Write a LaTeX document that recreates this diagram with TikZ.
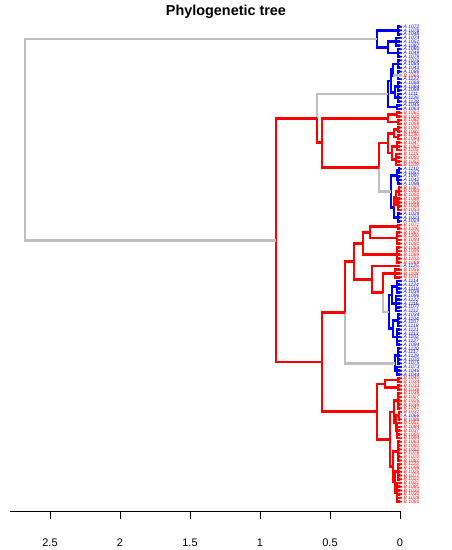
\documentclass[tikz,border=0pt]{standalone}
\usepackage{fontspec}
\setmainfont{Liberation Sans}
\usetikzlibrary{calc}
\definecolor{colB}{RGB}{255,0,0}
\definecolor{colA}{RGB}{0,0,255}
\definecolor{tgray}{RGB}{190,190,190}
\tikzset{
  br/.style={line width=2.7pt},
  R/.style={br,draw=colB},
  B/.style={br,draw=colA},
  G/.style={br,draw=tgray},
  leaflab/.style={anchor=west,inner sep=0pt,font=\fontsize{4.9}{5}\selectfont\itshape},
  leafdot/.style={circle,inner sep=0pt,minimum size=2.6pt},
  ticklab/.style={font=\fontsize{11}{13}\selectfont},
  declare function={ly(\i)=26.7+3.74*\i;}
}
\newcommand\mygrp[5]{%
  \coordinate (#1) at (#2,{ly((#3+#4)/2)});
  \foreach \kk in {#3,...,#4}{\draw[#5] (#1) |- (L\kk);}}
\newcommand\mkpar[4]{\path let \p1=($(#3)!.5!(#4)$) in coordinate (#1) at (#2,\y1);}
\newcommand\tedge[3]{\draw[#1] (#2) |- (#3);}
\begin{document}
\begin{tikzpicture}[x=1pt,y=-1pt]
\useasboundingbox (0,0) rectangle (452,550);
\node[font=\fontsize{14.4}{16}\selectfont\bfseries] (title) at (226,12) {Phylogenetic tree};
% leaves
\foreach \ii in {0,...,127}{\coordinate (L\ii) at (400,{ly(\ii)});}
% ---- cluster 1 (blue)
\mygrp{c1a}{398}{0}{2}{B}
\mygrp{c1bx}{396}{3}{5}{B}
\mygrp{c1by}{398}{6}{8}{B}
\mkpar{c1b}{388}{c1bx}{c1by}
\tedge{B}{c1b}{c1bx}\tedge{B}{c1b}{c1by}
\mkpar{c1}{377}{c1a}{c1b}
\tedge{B}{c1}{c1a}\tedge{B}{c1}{c1b}
% ---- cluster 2 (blue)
\mygrp{c2g1}{398}{9}{11}{B}
\mygrp{c2g2}{398}{12}{14}{B}
\mkpar{c2a1}{393}{c2g1}{c2g2}
\tedge{B}{c2a1}{c2g1}\tedge{B}{c2a1}{c2g2}
\draw[G] (393,{ly(13)}) -- (L13);
\mygrp{c2g3}{398}{15}{17}{B}
\mygrp{c2g4}{398}{18}{20}{B}
\mkpar{c2a2}{395}{c2g3}{c2g4}
\tedge{B}{c2a2}{c2g3}\tedge{B}{c2a2}{c2g4}
\mkpar{c2a}{391}{c2a1}{c2a2}
\tedge{B}{c2a}{c2a1}\tedge{B}{c2a}{c2a2}
\mygrp{c2b}{397}{21}{22}{B}
\mkpar{c2}{388}{c2a}{c2b}
\tedge{B}{c2}{c2a}\tedge{B}{c2}{c2b}
% ---- red top
\mygrp{rt1}{397}{23}{24}{R}
\mygrp{rt2}{398}{25}{26}{R}
\mkpar{rt}{388}{rt1}{rt2}
\tedge{R}{rt}{rt1}\tedge{R}{rt}{rt2}
\mygrp{rc11}{398}{27}{28}{R}
\mygrp{rc12}{398}{29}{30}{R}
\mkpar{rc1}{394}{rc11}{rc12}
\tedge{R}{rc1}{rc11}\tedge{R}{rc1}{rc12}
\mygrp{rc21}{397}{31}{33}{R}
\mygrp{rc22}{396}{34}{37}{R}
\mkpar{rc2}{392}{rc21}{rc22}
\tedge{R}{rc2}{rc21}\tedge{R}{rc2}{rc22}
\mkpar{rc}{388}{rc1}{rc2}
\tedge{R}{rc}{rc1}\tedge{R}{rc}{rc2}
% ---- mixed M
\mygrp{mb1}{399}{38}{39}{B}
\mygrp{mb2}{398}{40}{42}{B}
\mkpar{mb}{397}{mb1}{mb2}
\tedge{B}{mb}{mb1}\tedge{B}{mb}{mb2}
\mygrp{mr1}{399}{43}{45}{R}
\mygrp{mr2}{398}{46}{49}{R}
\mkpar{mr}{396}{mr1}{mr2}
\tedge{R}{mr}{mr1}\tedge{R}{mr}{mr2}
\mygrp{mb3}{398}{50}{52}{B}
\mkpar{m2}{394}{mr}{mb3}
\tedge{R}{m2}{mr}\tedge{B}{m2}{mb3}
\mkpar{m}{391}{mb}{m2}
\tedge{B}{m}{mb}\tedge{B}{m}{m2}
\mkpar{c}{379}{rc}{m}
\tedge{R}{c}{rc}\tedge{G}{c}{m}
\mkpar{b}{322}{rt}{c}
\tedge{R}{b}{rt}\tedge{R}{b}{c}
\mkpar{a}{317}{c2}{b}
\tedge{G}{a}{c2}\tedge{R}{a}{b}
% ---- bottom half
\mygrp{f1a1}{398}{53}{54}{R}
\mygrp{f1a2}{397}{55}{58}{R}
\mkpar{f1a}{370}{f1a1}{f1a2}
\tedge{R}{f1a}{f1a1}\tedge{R}{f1a}{f1a2}
\mygrp{f1b}{397}{59}{63}{R}
\mkpar{f1}{363}{f1a}{f1b}
\tedge{R}{f1}{f1a}\tedge{R}{f1}{f1b}
\mygrp{hr}{395}{65}{67}{R}
\mygrp{b1a1}{397}{68}{71}{B}
\mygrp{b1a2}{396}{72}{76}{B}
\mkpar{b1a}{392}{b1a1}{b1a2}
\tedge{B}{b1a}{b1a1}\tedge{B}{b1a}{b1a2}
\mygrp{b1b1}{398}{77}{80}{B}
\mygrp{b1b2}{397}{81}{85}{B}
\mkpar{b1b}{393}{b1b1}{b1b2}
\tedge{B}{b1b}{b1b1}\tedge{B}{b1b}{b1b2}
\mkpar{b1}{389}{b1a}{b1b}
\tedge{B}{b1}{b1a}\tedge{B}{b1}{b1b}
\mkpar{h}{383}{hr}{b1}
\tedge{R}{h}{hr}\tedge{G}{h}{b1}
\mkpar{g}{372}{L64}{h}
\tedge{R}{g}{L64}\tedge{R}{g}{h}
\mkpar{f}{354}{f1}{g}
\tedge{R}{f}{f1}\tedge{R}{f}{g}
\mygrp{b2a}{398}{86}{90}{B}
\mygrp{b2b}{397}{91}{93}{B}
\mkpar{b2}{395}{b2a}{b2b}
\tedge{B}{b2}{b2a}\tedge{B}{b2}{b2b}
\mkpar{e}{345}{f}{b2}
\tedge{R}{e}{f}\tedge{G}{e}{b2}
\mygrp{k1a}{398}{94}{95}{R}
\mygrp{k1b}{398}{96}{97}{R}
\mkpar{k1}{385}{k1a}{k1b}
\tedge{R}{k1}{k1a}\tedge{R}{k1}{k1b}
\mygrp{l1a}{398}{98}{102}{R}
\mygrp{l1b1}{399}{103}{105}{R}
\mygrp{l1b2}{397}{106}{110}{R}
\mkpar{l1b}{396}{l1b1}{l1b2}
\tedge{R}{l1b}{l1b1}\tedge{R}{l1b}{l1b2}
\mkpar{l1}{394}{l1a}{l1b}
\tedge{R}{l1}{l1a}\tedge{R}{l1}{l1b}
\mygrp{l2a}{398}{111}{116}{R}
\mygrp{l2b1}{398}{117}{121}{R}
\mygrp{l2b2}{397}{122}{127}{R}
\mkpar{l2b}{395}{l2b1}{l2b2}
\tedge{R}{l2b}{l2b1}\tedge{R}{l2b}{l2b2}
\mkpar{l2}{393}{l2a}{l2b}
\tedge{R}{l2}{l2a}\tedge{R}{l2}{l2b}
\mkpar{l}{390}{l1}{l2}
\tedge{R}{l}{l1}\tedge{R}{l}{l2}
\mkpar{k}{377}{k1}{l}
\tedge{R}{k}{k1}\tedge{R}{k}{l}
\mkpar{d}{322}{e}{k}
\tedge{R}{d}{e}\tedge{R}{d}{k}
\mkpar{r2}{276}{a}{d}
\tedge{R}{r2}{a}\tedge{R}{r2}{d}
\mkpar{root}{25}{c1}{r2}
\tedge{G}{root}{c1}\tedge{G}{root}{r2}
% ---- leaf markers and labels
\foreach \ii/\pp/\nn in {0/A/1072,1/A/1078,2/A/1048,3/A/1074,4/A/1051,5/A/1087,6/A/1080,7/A/1049,8/A/1079,9/A/1076,10/A/1085,11/A/1043,12/A/1086,13/B/1065,14/A/1123,15/A/1068,16/A/1064,17/A/1099,18/A/1111,19/A/1126,20/A/1128,21/A/1045,22/A/1063,
23/B/1061,24/B/1020,25/B/1082,26/B/1059,27/B/1090,28/B/1081,29/B/1130,30/B/1084,31/B/1047,32/B/1062,33/B/1105,34/B/1115,35/B/1092,36/B/1052,37/B/1109,
38/A/1110,39/A/1057,40/A/1097,41/A/1042,42/A/1098,
43/B/1087,44/B/1083,45/B/1050,46/B/1088,47/B/1055,48/B/1058,49/B/1053,
50/A/1029,51/A/1023,52/A/1024,
53/B/1071,54/B/1106,55/B/1067,56/B/1100,57/B/1093,58/B/1091,59/B/1054,60/B/1095,61/B/1069,62/B/1103,63/B/1089,
64/A/1125,65/B/1056,66/B/1108,67/B/1101,
68/A/1114,69/A/1124,70/A/1119,71/A/1039,72/A/1096,73/A/1122,74/A/1116,75/A/1077,76/A/1112,77/A/1034,78/A/1104,79/A/1107,80/A/1118,81/A/1121,82/A/1113,83/A/1102,84/A/1127,85/A/1094,86/A/1120,87/A/1117,88/A/1129,89/A/1070,90/A/1075,91/A/1073,92/A/1046,93/A/1044,
94/B/1040,95/B/1034,96/B/1033,97/B/1036,98/B/1039,99/B/1027,100/B/1026,101/B/1035,102/B/1041,103/B/1031,104/A/1066,105/B/1088,106/B/1051,107/B/1084,108/B/1037,109/B/1050,110/B/1094,111/B/1063,112/B/1092,113/B/1052,114/B/1076,115/B/1070,116/B/1081,117/B/1123,118/B/1098,119/B/1025,120/B/1077,121/B/1022,122/B/1021,123/B/1080,124/B/1032,125/B/1030,126/B/1028,127/B/1060}{
  \node[leafdot,fill=col\pp] (m\ii) at (401,{ly(\ii)}) {};
  \node[leaflab,text=col\pp] (t\ii) at (403.5,{ly(\ii)}) {\pp\ \nn};
}
\foreach \ii in {13,64,104}{\node[leafdot,fill=tgray,minimum size=3.2pt] at (401,{ly(\ii)}) {};}
% ---- axis
\draw[line width=0.8pt] (10,511) -- (400,511);
\foreach \xx/\ll in {50/2.5,120/2,190/1.5,260/1,330/0.5,400/0}{
  \draw[line width=0.8pt] (\xx,511) -- (\xx,519);
  \node[ticklab] (x\ll) at (\xx,543) {\ll};
}
\end{tikzpicture}
\end{document}
